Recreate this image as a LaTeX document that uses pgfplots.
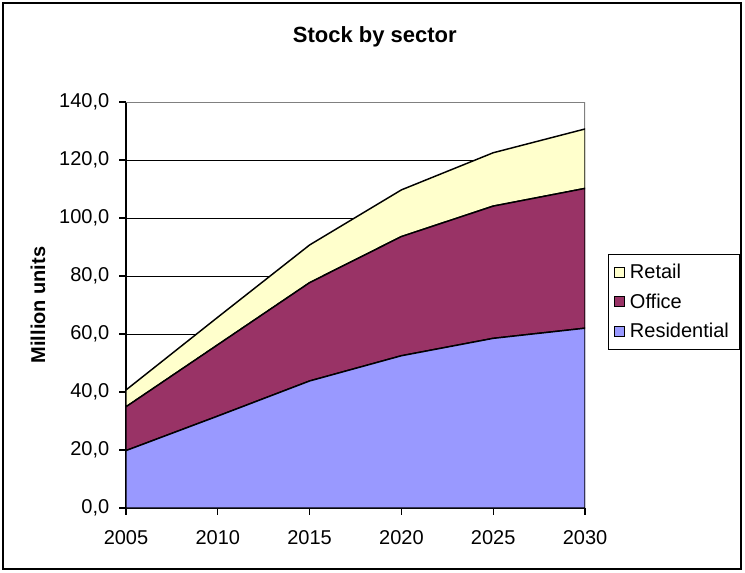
\documentclass[border=0pt]{standalone}
\usepackage{fontspec}
\setmainfont{Liberation Sans}
\usepackage{pgfplots}
\pgfplotsset{compat=1.18}

\definecolor{resid}{HTML}{9999FF}
\definecolor{office}{HTML}{993366}
\definecolor{retail}{HTML}{FFFFCC}

% stacked values, million units
\pgfplotstableread{
year resid office retail
2005 19.8 15.1 5.8
2010 31.7 24.6 9.5
2015 43.8 33.9 13.0
2020 52.5 41.1 16.1
2025 58.5 45.6 18.4
2030 62.0 48.2 20.5
}\stock

\begin{document}
\begin{tikzpicture}
% 1 px of the reference = 0.75pt
\useasboundingbox (0pt,0pt) rectangle (558.75pt,429pt);
\draw[black,line width=0.8pt] (2.25pt,2.25pt) rectangle (555.75pt,426.75pt);
\begin{axis}[
    at={(94.5pt,48pt)}, anchor=south west,
    scale only axis,
    width=344.25pt, height=304.5pt,
    xmin=2005, xmax=2030, ymin=0, ymax=140,
    xtick={2005,2010,2015,2020,2025,2030},
    ytick={0,20,...,140},
    stack plots=y,
    axis lines=left,
    axis line style={-, black, line width=0.8pt},
    tick align=outside,
    major tick length=5pt,
    tick style={black, line width=0.8pt},
    ymajorgrids,
    grid style={black, line width=0.6pt},
    font=\fontsize{15}{18}\selectfont,
    /pgf/number format/assume math mode=true,
    xticklabel style={/pgf/number format/1000 sep={}, yshift=-8pt},
    yticklabel style={xshift=-4pt, /pgf/number format/fixed, /pgf/number format/fixed zerofill,
        /pgf/number format/precision=1, /pgf/number format/use comma},
    xtick pos=bottom, ytick pos=left,
    title={Stock by sector},
    title style={at={(axis description cs:0.542,1.14)}, anchor=center,
        font=\fontsize{16.5}{19}\selectfont\bfseries},
    ylabel={Million units},
    ylabel style={at={(axis description cs:-0.192,0.5)}, anchor=center,
        font=\fontsize{15}{18}\selectfont\bfseries},
    legend style={at={(1.050,0.626)}, anchor=north west,
        draw=black, line width=0.8pt,
        font=\fontsize{15}{18}\selectfont,
        row sep=6pt, inner xsep=4pt, inner ysep=5pt,
        nodes={inner xsep=4pt},
        cells={anchor=west}},
    legend image code/.code={\draw[#1, line width=0.6pt] (0pt,-3.75pt) rectangle (7.5pt,3.75pt);},
    reverse legend,
]
\addplot[fill=resid, draw=black, line width=1.1pt] table[x=year,y=resid]{\stock} \closedcycle;
\addlegendentry{Residential}
\addplot[fill=office, draw=black, line width=1.1pt] table[x=year,y=office]{\stock} \closedcycle;
\addlegendentry{Office}
\addplot[fill=retail, draw=black, line width=1.1pt] table[x=year,y=retail]{\stock} \closedcycle;
\addlegendentry{Retail}
\draw[gray, line width=0.8pt] (rel axis cs:0,1) -- (rel axis cs:1,1) -- (rel axis cs:1,0);
\end{axis}
\end{tikzpicture}
\end{document}
